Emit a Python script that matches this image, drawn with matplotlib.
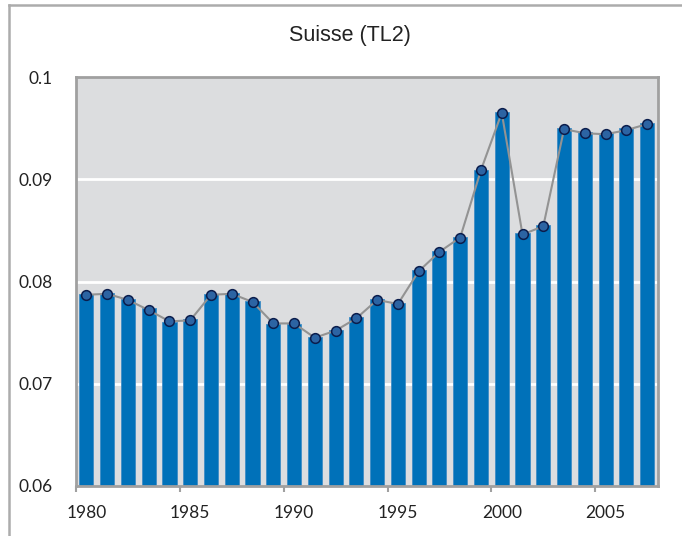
import matplotlib
matplotlib.use("Agg")
import matplotlib.pyplot as plt
from matplotlib.lines import Line2D
import numpy as np

years = list(range(1980, 2008))
bar_values = [0.0788, 0.0789, 0.0783, 0.0774, 0.0760, 0.0763, 0.0788, 0.0789,
              0.0781, 0.0758, 0.0758, 0.0746, 0.0753, 0.0765, 0.0783, 0.0779,
              0.0811, 0.0830, 0.0844, 0.0909, 0.0966, 0.0847, 0.0855, 0.0950,
              0.0946, 0.0945, 0.0950, 0.0955]
line_values = [0.0787, 0.0788, 0.0782, 0.0772, 0.0761, 0.0762, 0.0787, 0.0788,
               0.0780, 0.0759, 0.0759, 0.0745, 0.0752, 0.0764, 0.0782, 0.0778,
               0.0810, 0.0829, 0.0843, 0.0909, 0.0965, 0.0846, 0.0854, 0.0949,
               0.0945, 0.0944, 0.0948, 0.0954]
yticks = [0.06, 0.07, 0.08, 0.09, 0.1]
ytick_labels = ["0.06", "0.07", "0.08", "0.09", "0.1"]
xlabel_years = [1980, 1985, 1990, 1995, 2000, 2005]
title = "Suisse (TL2)"

W, H = 682, 536
fig = plt.figure(figsize=(W / 100, H / 100), dpi=100)
fig.patch.set_facecolor("white")

# outer chart frame (top and left edges visible)
fig.add_artist(Line2D([9 / W, 1.0], [1 - 5 / H, 1 - 5 / H], color="#acacac", lw=1.8,
                      transform=fig.transFigure))
fig.add_artist(Line2D([9 / W, 9 / W], [0.0, 1 - 5 / H], color="#acacac", lw=1.8,
                      transform=fig.transFigure))

left, right, top, bottom = 76, 657.5, 77, 486
ax = fig.add_axes([left / W, 1 - bottom / H, (right - left) / W, (bottom - top) / H])
ax.set_facecolor("#dcdddf")

x = np.arange(len(years))
ax.set_ylim(0.06, 0.1)
ax.set_xlim(-0.5, len(years) - 0.5)

for yv in [0.07, 0.08, 0.09]:
    ax.axhline(yv, color="white", lw=2, zorder=1)

ax.bar(x, bar_values, width=0.68, bottom=0, color="#0071b9", edgecolor="#3f8cc6",
       linewidth=0.6, zorder=2)
ax.plot(x, line_values, color="#939393", lw=1.5, zorder=3)
ax.plot(x, line_values, linestyle="none", marker="o", markersize=7,
        markerfacecolor="#2c64a3", markeredgecolor="#0b1d4c", markeredgewidth=1.1,
        zorder=4)

for s in ax.spines.values():
    s.set_color("#a0a0a0")
    s.set_linewidth(2)

ax.set_yticks(yticks)
ax.set_yticklabels(ytick_labels, fontsize=12.5, family=["Lato", "DejaVu Sans"],
                   color="#222222")
ax.tick_params(axis="y", length=0, pad=17)

label_pos = [years.index(yy) for yy in xlabel_years]
ax.set_xticks(label_pos)
ax.set_xticklabels([str(yy) for yy in xlabel_years], fontsize=12.5,
                   family=["Lato", "DejaVu Sans"], color="#222222")
ax.tick_params(axis="x", which="major", length=0, pad=14)
ax.set_xticks([p - 0.5 for p in label_pos], minor=True)
ax.tick_params(axis="x", which="minor", length=4, width=1.5, color="#a0a0a0",
               direction="out")

fig.text(350 / W, 1 - 36 / H, title, ha="center", va="center", fontsize=15.5,
         family=["Liberation Sans", "DejaVu Sans"], color="#222222")

fig.savefig("out.png", dpi=100)
